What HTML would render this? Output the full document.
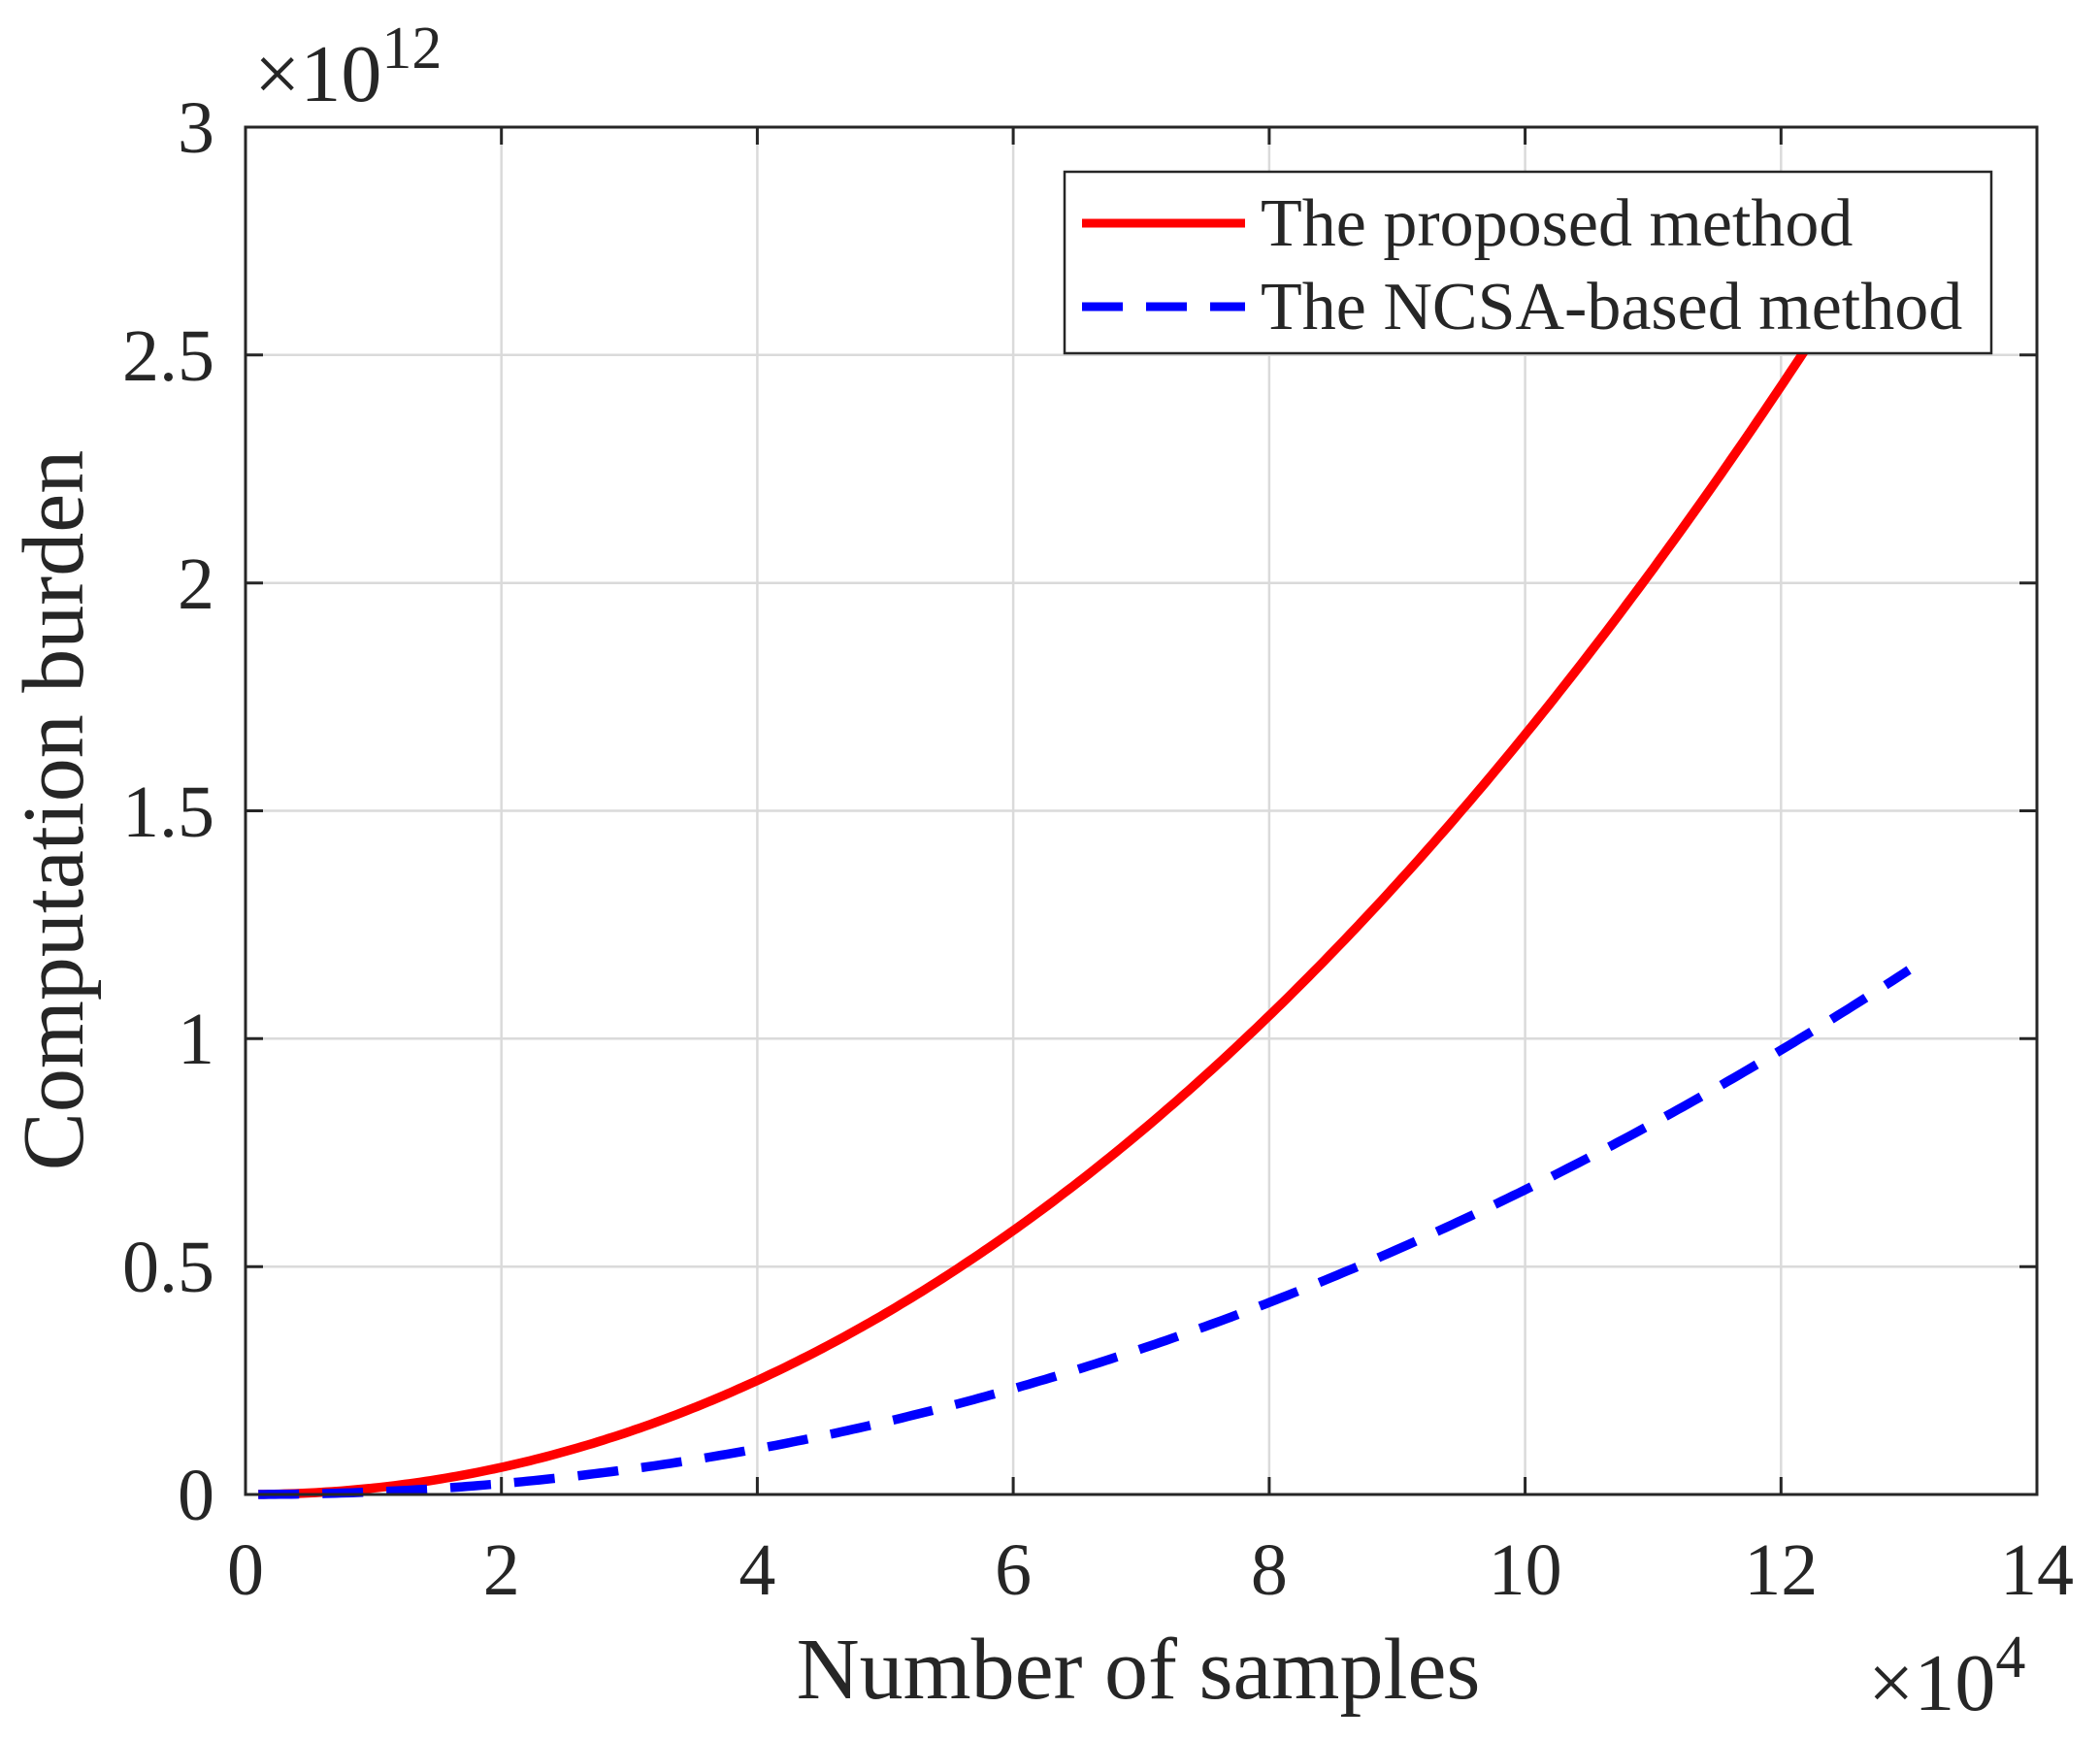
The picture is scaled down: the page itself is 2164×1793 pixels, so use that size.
<!DOCTYPE html>
<html><head><meta charset="utf-8"><style>
html,body{margin:0;padding:0;background:#fff;}
svg{display:block;}
text{font-family:"Liberation Serif",serif;fill:#262626;}
</style></head><body>
<svg width="2164" height="1793" viewBox="0 0 2164 1793" xmlns="http://www.w3.org/2000/svg">
<g stroke="#dadada" stroke-width="2.5">
<line x1="516.7" y1="131" x2="516.7" y2="1540"/>
<line x1="780.4" y1="131" x2="780.4" y2="1540"/>
<line x1="1044.1" y1="131" x2="1044.1" y2="1540"/>
<line x1="1307.9" y1="131" x2="1307.9" y2="1540"/>
<line x1="1571.6" y1="131" x2="1571.6" y2="1540"/>
<line x1="1835.3" y1="131" x2="1835.3" y2="1540"/>
<line x1="253" y1="1305.2" x2="2099" y2="1305.2"/>
<line x1="253" y1="1070.3" x2="2099" y2="1070.3"/>
<line x1="253" y1="835.5" x2="2099" y2="835.5"/>
<line x1="253" y1="600.7" x2="2099" y2="600.7"/>
<line x1="253" y1="365.8" x2="2099" y2="365.8"/>
</g>
<g id="curves"></g>
<g stroke="#262626" stroke-width="3" fill="none">
<rect x="253" y="131" width="1846" height="1409"/>
<path d="M516.7 1540v-18M780.4 1540v-18M1044.1 1540v-18M1307.9 1540v-18M1571.6 1540v-18M1835.3 1540v-18
M516.7 131v18M780.4 131v18M1044.1 131v18M1307.9 131v18M1571.6 131v18M1835.3 131v18
M253 1305.2h18M253 1070.3h18M253 835.5h18M253 600.7h18M253 365.8h18
M2099 1305.2h-18M2099 1070.3h-18M2099 835.5h-18M2099 600.7h-18M2099 365.8h-18"/>
</g>
<g font-size="76" text-anchor="middle">
<text x="253" y="1643">0</text>
<text x="516.7" y="1643">2</text>
<text x="780.4" y="1643">4</text>
<text x="1044.1" y="1643">6</text>
<text x="1307.9" y="1643">8</text>
<text x="1571.6" y="1643">10</text>
<text x="1835.3" y="1643">12</text>
<text x="2099" y="1643">14</text>
</g>
<g font-size="76" text-anchor="end">
<text x="221" y="1566">0</text>
<text x="221" y="1331">0.5</text>
<text x="221" y="1096">1</text>
<text x="221" y="862">1.5</text>
<text x="221" y="627">2</text>
<text x="221" y="392">2.5</text>
<text x="221" y="157">3</text>
</g>
<text x="262" y="104" font-size="84">×10<tspan font-size="62" dy="-34">12</tspan></text>
<text x="1925" y="1762" font-size="84">×10<tspan font-size="62" dy="-34">4</tspan></text>
<text x="1173" y="1750" font-size="90" text-anchor="middle">Number of samples</text>
<text transform="translate(85,835) rotate(-90)" font-size="90" text-anchor="middle">Computation burden</text>
<rect x="1097" y="177" width="955" height="187" fill="#fff" stroke="#262626" stroke-width="2.5"/>
<line x1="1115" y1="230" x2="1283" y2="230" stroke="#ff0000" stroke-width="9"/>
<line x1="1115" y1="316" x2="1283" y2="316" stroke="#0000ff" stroke-width="9" stroke-dasharray="42,24"/>
<text x="1299" y="253" font-size="70">The proposed method</text>
<text x="1299" y="339" font-size="70">The NCSA-based method</text>
</svg>
<script>
(function(){
var ns="http://www.w3.org/2000/svg";
function X(x){return 253+x*1846/14;}
function Y(y){return 1540-y*1409/3;}
function path(c,xmax){var d="";for(var i=0;i<=300;i++){var x=0.1+(xmax-0.1)*i/300;var y=c*Math.pow(x,2.07);d+=(i?"L":"M")+X(x).toFixed(1)+" "+Y(y).toFixed(1);}return d;}
var g=document.getElementById("curves");
var red=document.createElementNS(ns,"path");
red.setAttribute("d",path(0.01419,12.35));red.setAttribute("stroke","#ff0000");red.setAttribute("stroke-width","9.5");red.setAttribute("fill","none");
var blue=document.createElementNS(ns,"path");
blue.setAttribute("d",path(0.00569,13));blue.setAttribute("stroke","#0000ff");blue.setAttribute("stroke-width","9.5");blue.setAttribute("fill","none");blue.setAttribute("stroke-dasharray","42,24");
g.appendChild(red);g.appendChild(blue);
})();
</script>
</body></html>
